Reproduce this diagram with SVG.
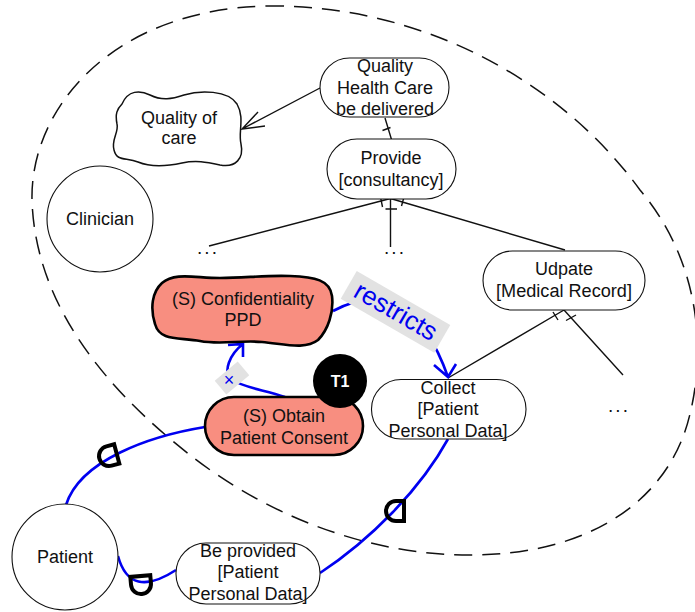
<svg xmlns="http://www.w3.org/2000/svg" width="695" height="612" viewBox="0 0 695 612">
<defs>
<style>
text{font-family:"Liberation Sans",Arial,sans-serif;font-size:18px;fill:#111;text-anchor:middle}
.node{fill:#fff;stroke:#111;stroke-width:1.1}
.sec{fill:#F88E80;stroke:#000;stroke-width:2.6}
.bl{fill:none;stroke:#111;stroke-width:1.4}
.blue{fill:none;stroke:#0000F0;stroke-width:2.6}
.dm{fill:none;stroke:#000;stroke-width:4;stroke-linejoin:miter}
.boundary{fill:none;stroke:#111;stroke-width:1.5;stroke-dasharray:18 10}
</style>
<path id="D" d="M -8,-10 L 0,-10 A 10,10 0 0 1 0,10 L -8,10 Z"/>
</defs>
<rect width="695" height="612" fill="#fff"/>
<path id="boundary" class="boundary" d="M 266,6 C 420,4 560,80 640,190 C 695,255 708,340 690,414 C 670,500 590,555 470,555 C 360,555 260,510 190,455 C 100,385 35,300 32,200 C 30,110 110,10 266,6 Z"/>
<g id="connectors">
<path class="bl" d="M 320,88 L 242,129 M 258,112 L 242,129 L 265,126"/>
<path class="bl" d="M 385,118 L 391.5,139.5 M 382.5,130.5 L 390.5,127.5"/>
<path class="bl" d="M 390.5,198.5 L 209,246 M 390.5,198.5 L 390.5,247 M 390.5,198.5 L 565,250 M 380.5,197 L 382.5,207 M 404,197 L 401.5,206 M 385.5,209 L 397,209"/>
<path class="bl" d="M 564,310 L 448,378 M 564,310 L 623,375 M 553,312 L 558,320 M 566,320.5 L 576,315"/>
<path class="blue" d="M 205,427 C 150,436 80,460 66,505"/>
<path class="blue" d="M 118,556 Q 130,600 176,570"/>
<path class="blue" d="M 320,573 C 370,540 420,490 448,439"/>
<path class="blue" d="M 333,311 Q 410,270 448,377 M 434,365 L 448,377 L 456,364"/>
<path class="blue" d="M 285,397 C 265,390 245,388 232,380 C 222,372 230,354 243,344 M 228,345 L 243,344 L 243,357"/>
<g transform="translate(396,311) rotate(30)">
<rect x="-54" y="-15" width="108" height="32" fill="#E2E2E2"/>
<text x="0" y="9" style="font-size:26px;fill:#0000F0">restricts</text>
</g>
<g transform="translate(232,378) rotate(-40)">
<rect x="-15" y="-9" width="30" height="18" fill="#E2E2E2"/>
</g>
<text x="229" y="386" style="font-size:18px;fill:#0000F0">×</text>
<use href="#D" class="dm" transform="translate(109,456) rotate(165)"/>
<use href="#D" class="dm" transform="translate(141,584) rotate(85)"/>
<use href="#D" class="dm" transform="translate(396,511) rotate(180)"/>
</g>
<g id="qhc">
<rect class="node" x="320" y="58" width="129" height="59" rx="29.5"/>
<text x="385" y="72">Quality</text>
<text x="385" y="94">Health Care</text>
<text x="385" y="115">be delivered</text>
</g>
<g id="quality-of-care">
<path class="node" style="stroke-width:1.5" d="M 122,104 C 128,90 140,90 150,95 C 162,101 172,99 184,95 C 200,90 228,90 237,104 C 245,118 238,132 241,144 C 244,158 236,168 220,165 C 206,162 196,160 182,163 C 168,166 150,167 138,162 C 126,157 117,162 114,150 C 111,140 119,132 117,124 C 115,114 117,109 122,104 Z"/>
<text x="179" y="124">Quality of</text>
<text x="179" y="144">care</text>
</g>
<g id="provide">
<rect class="node" x="327" y="139" width="129" height="60" rx="30"/>
<text x="391" y="164">Provide</text>
<text x="391" y="186">[consultancy]</text>
</g>
<g id="clinician">
<circle class="node" cx="100" cy="219" r="53"/>
<text x="100" y="225">Clinician</text>
</g>
<g id="dots-left"><text x="208" y="254" style="letter-spacing:2px;font-size:19px">...</text></g>
<g id="dots-mid"><text x="395" y="254" style="letter-spacing:2px;font-size:19px">...</text></g>
<g id="dots-right"><text x="619" y="412" style="letter-spacing:2px;font-size:19px">...</text></g>
<g id="udpate">
<rect class="node" x="483" y="251" width="162" height="59" rx="29.5"/>
<text x="564" y="275">Udpate</text>
<text x="564" y="297" textLength="136" lengthAdjust="spacingAndGlyphs">[Medical Record]</text>
</g>
<g id="collect">
<rect class="node" x="371.5" y="379.5" width="154.5" height="59.5" rx="29.5"/>
<text x="448" y="394">Collect</text>
<text x="448" y="415">[Patient</text>
<text x="448" y="437">Personal Data]</text>
</g>
<g id="confidentiality">
<path class="sec" d="M 162,283 C 175,272 195,278 220,278 C 245,278 265,275 290,276 C 315,277 330,280 332,296 C 334,312 328,330 318,340 C 305,350 285,344 262,342 C 240,340 220,345 200,341 C 180,337 160,342 155,324 C 150,308 152,292 162,283 Z"/>
<text x="243" y="305">(S) Confidentiality</text>
<text x="243" y="326">PPD</text>
</g>
<g id="obtain">
<rect class="sec" x="205" y="397" width="158" height="58" rx="29"/>
<text x="284" y="422">(S) Obtain</text>
<text x="284" y="444">Patient Consent</text>
</g>
<g id="t1">
<circle cx="340" cy="381" r="27" fill="#000"/>
<text x="340" y="387" style="font-size:16px;font-weight:bold;fill:#fff">T1</text>
</g>
<g id="patient">
<circle class="node" cx="65" cy="557" r="53"/>
<text x="65" y="563">Patient</text>
</g>
<g id="be-provided">
<rect class="node" x="176" y="543" width="144" height="61" rx="30"/>
<text x="248" y="557">Be provided</text>
<text x="248" y="578">[Patient</text>
<text x="248" y="600">Personal Data]</text>
</g>
</svg>
